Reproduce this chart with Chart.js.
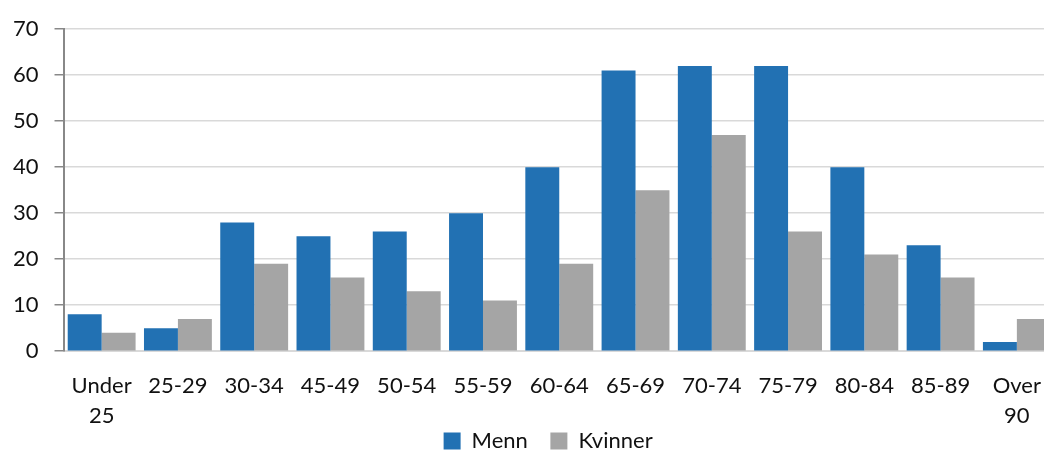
<!DOCTYPE html>
<html>
<head>
<meta charset="utf-8">
<script src="https://cdn.jsdelivr.net/npm/chart.js@4/dist/chart.umd.min.js"></script>
<style>
  html, body { margin: 0; padding: 0; background: #fff; }
  #wrap { width: 1044px; height: 450px; }
</style>
</head>
<body>
<div id="wrap"><canvas id="myChart"></canvas></div>
<script>
const ageGroups = [["Under", "25"], "25-29", "30-34", "45-49", "50-54", "55-59", "60-64",
    "65-69", "70-74", "75-79", "80-84", "85-89", ["Over", "90"]];
const menn = [8, 5, 28, 25, 26, 30, 40, 61, 62, 62, 40, 23, 2];
const kvinner = [4, 7, 19, 16, 13, 11, 19, 35, 47, 26, 21, 16, 7];

const font = "Lato, 'Open Sans', sans-serif";
const overhang = 11;

// the plot runs a little past the right edge of the canvas
const stretchRight = {
    id: "stretchRight",
    afterLayout(chart) {
        const x = chart.scales.x;
        x.right += overhang;
        x.width += overhang;
        chart.chartArea.right += overhang;
        chart.chartArea.width += overhang;
        x.configure();
    }
};

const ctx = document.getElementById("myChart").getContext("2d");
new Chart(ctx, {
    type: "bar",
    data: {
        labels: ageGroups,
        datasets: [{
            label: "Menn",
            backgroundColor: "#2271b3",
            data: menn
        }, {
            label: "Kvinner",
            backgroundColor: "#a5a5a5",
            data: kvinner
        }]
    },
    options: {
        responsive: true,
        maintainAspectRatio: false,
        animation: false,
        layout: { padding: { top: 20, right: 0, left: -3, bottom: -12 } },
        datasets: { bar: { categoryPercentage: 0.89, barPercentage: 1 } },
        plugins: {
            tooltip: { enabled: false },
            legend: {
                position: "bottom",
                fullSize: false,
                labels: {
                    font: { family: font, size: 22 },
                    color: "#111",
                    boxWidth: 17,
                    boxHeight: 17,
                    padding: 0,
                    generateLabels(chart) {
                        // extra room after the first entry, a little slack after the last
                        const items = Chart.defaults.plugins.legend.labels.generateLabels(chart);
                        items[0].text += "    ";
                        items[1].text += "  ";
                        return items;
                    }
                }
            }
        },
        scales: {
            x: {
                grid: { display: false, drawTicks: false },
                border: { color: "#d9d9d9", width: 2 },
                ticks: {
                    font: { family: font, size: 22, lineHeight: 1.36 },
                    color: "#111",
                    maxRotation: 0,
                    autoSkip: false,
                    padding: 20
                },
                afterFit(scale) {
                    // let the legend sit close under the two-line labels
                    scale.height -= 21;
                    scale.paddingRight = 0;
                }
            },
            y: {
                min: 0,
                max: 70,
                grid: { color: "#d9d9d9", lineWidth: 1.5, tickLength: 9, tickColor: "#888" },
                border: { color: "#888", width: 2 },
                ticks: {
                    stepSize: 10,
                    font: { family: font, size: 22 },
                    color: "#111",
                    padding: 16
                }
            }
        }
    },
    plugins: [stretchRight]
});
</script>
</body>
</html>
